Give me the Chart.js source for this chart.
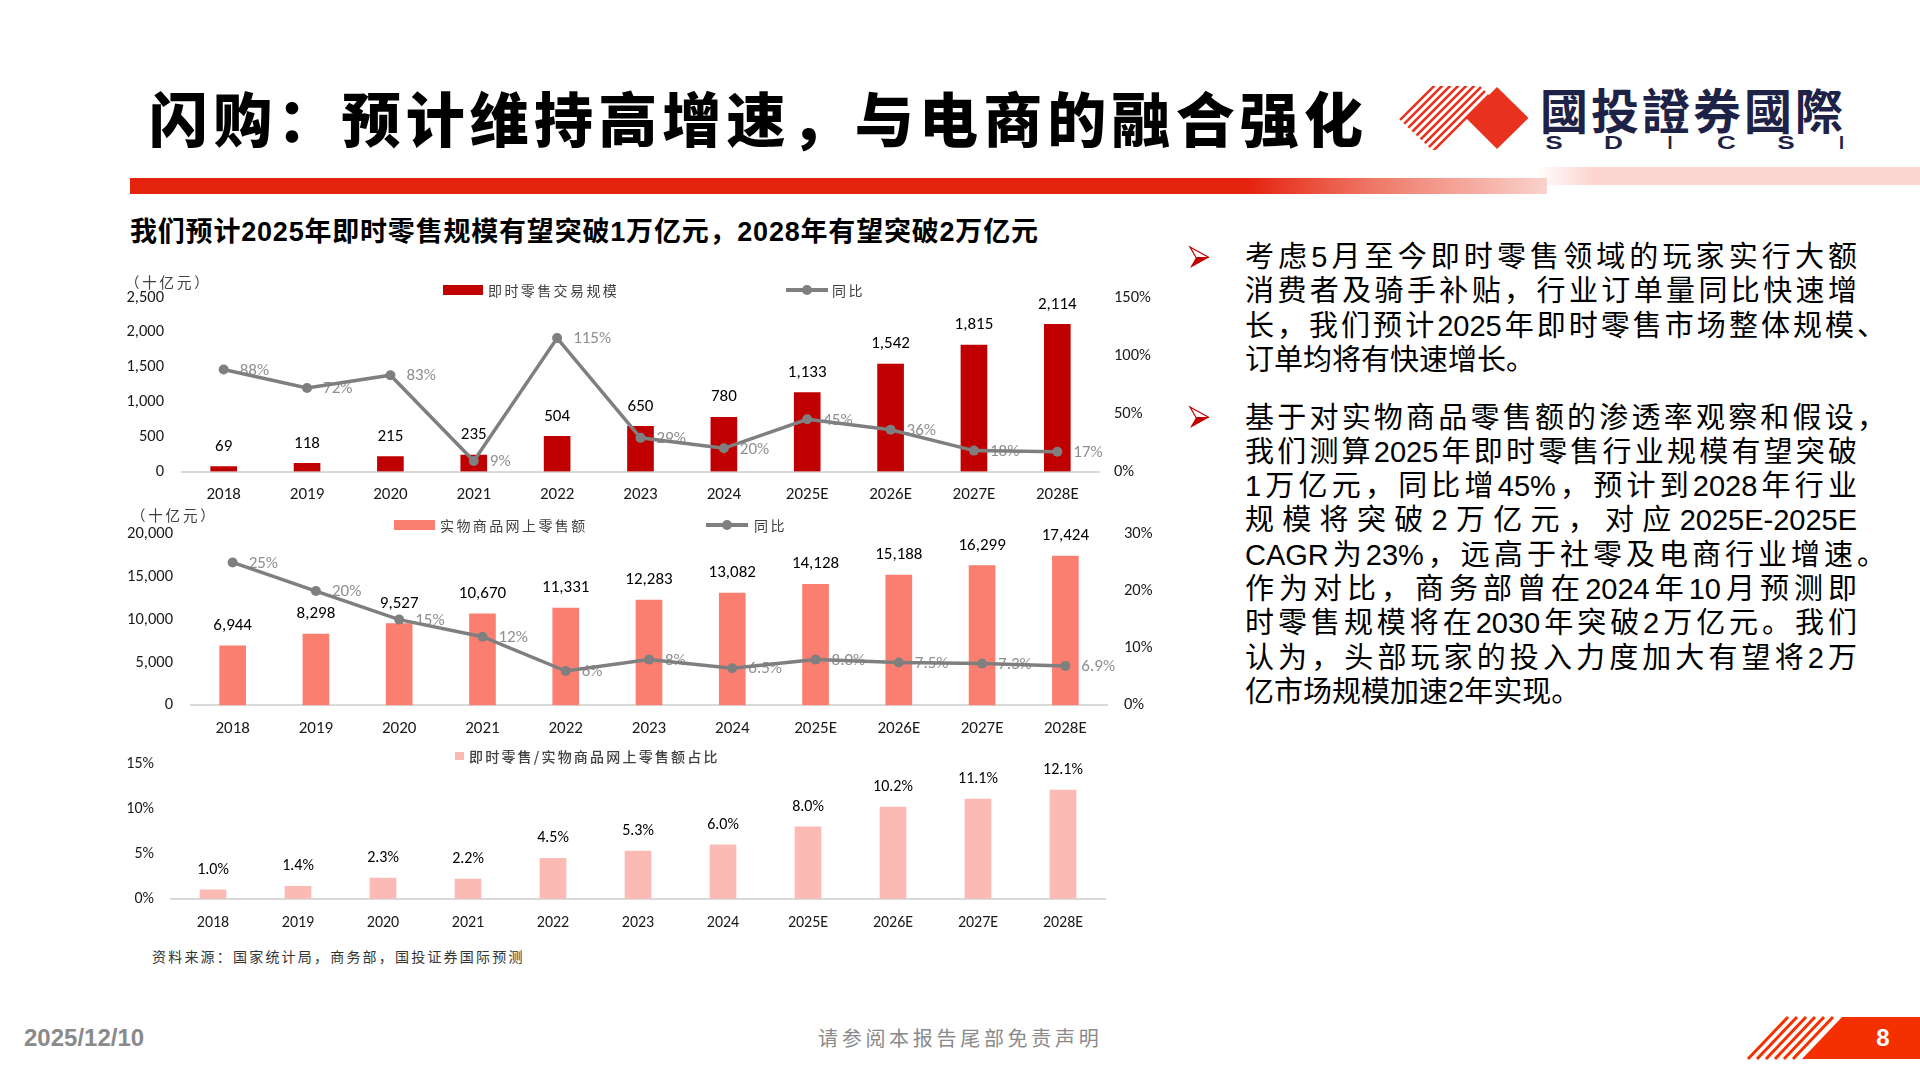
<!DOCTYPE html>
<html><head><meta charset="utf-8">
<script src="https://cdn.jsdelivr.net/npm/chart.js@4.4.1/dist/chart.umd.min.js"></script>
<style>
html,body{margin:0;padding:0;}
body{width:1920px;height:1080px;overflow:hidden;background:#fff;position:relative;font-family:"Liberation Sans","Noto Sans CJK SC",sans-serif;color:#000;}
.abs{position:absolute;white-space:nowrap;}
.ln{position:absolute;left:1245px;width:612px;height:34px;line-height:34px;font-size:29px;text-align:justify;text-align-last:justify;white-space:nowrap;}
.ln.last{text-align-last:left;}
.hang{margin-right:-29px;}
canvas{position:absolute;}
.leg{position:absolute;font-family:"Noto Sans CJK SC",sans-serif;font-size:14px;color:#404040;line-height:20px;height:20px;white-space:nowrap;}
.sx{display:inline-block;transform:scaleX(1.45);}
</style></head><body>

<svg class="abs" style="left:0;top:0" width="1920" height="1080" xmlns="http://www.w3.org/2000/svg">
  <defs>
    <linearGradient id="gRed" x1="0" x2="1" y1="0" y2="0">
      <stop offset="0" stop-color="#E52410"/>
      <stop offset="0.79" stop-color="#E52410"/>
      <stop offset="0.88" stop-color="#EF7A6A"/>
      <stop offset="1" stop-color="#FAD2CC"/>
    </linearGradient>
    <linearGradient id="gPink" x1="0" x2="1" y1="0" y2="0">
      <stop offset="0" stop-color="#FFFFFF"/>
      <stop offset="0.15" stop-color="#FDD5D0"/>
      <stop offset="1" stop-color="#FDD5D0"/>
    </linearGradient>
    <clipPath id="stripeClip">
      <polygon points="1398,118 1432,86 1480,86 1497,103 1466,149 1432,150"/>
    </clipPath>
  </defs>
  <rect x="1535" y="167" width="385" height="18" fill="url(#gPink)"/>
  <rect x="130" y="178" width="1417" height="16" fill="url(#gRed)"/>
  <g clip-path="url(#stripeClip)" stroke="#E8321E" stroke-width="2.6">
    <line x1="1380" y1="140" x2="1450" y2="70"/>
    <line x1="1388" y1="140" x2="1458" y2="70"/>
    <line x1="1396" y1="140" x2="1466" y2="70"/>
    <line x1="1404" y1="140" x2="1474" y2="70"/>
    <line x1="1400" y1="152" x2="1482" y2="70"/>
    <line x1="1408" y1="152" x2="1490" y2="70"/>
    <line x1="1416" y1="152" x2="1498" y2="70"/>
    <line x1="1424" y1="152" x2="1506" y2="70"/>
    <line x1="1432" y1="152" x2="1514" y2="70"/>
  </g>
  <polygon points="1497,87 1528.5,118 1497,149 1466,118" fill="#E8321E"/>
  <g>
    <polygon points="1190,247 1209,257.5 1196,257.5" fill="#fff" stroke="#C00000" stroke-width="1.2"/>
    <polygon points="1196,257.5 1209,257.5 1190,268" fill="#C00000"/>
    <polygon points="1190,407 1209,417.5 1196,417.5" fill="#fff" stroke="#C00000" stroke-width="1.2"/>
    <polygon points="1196,417.5 1209,417.5 1190,428" fill="#C00000"/>
  </g>
  <polygon points="1842,1017 1920,1017 1920,1059 1802,1059" fill="#F53000"/>
  <g stroke="#F53000" stroke-width="3">
    <line x1="1788" y1="1017" x2="1748" y2="1059"/>
    <line x1="1797" y1="1017" x2="1757" y2="1059"/>
    <line x1="1806" y1="1017" x2="1766" y2="1059"/>
    <line x1="1815" y1="1017" x2="1775" y2="1059"/>
    <line x1="1824" y1="1017" x2="1784" y2="1059"/>
    <line x1="1833" y1="1017" x2="1793" y2="1059"/>
  </g>
</svg>

<!-- title -->
<div id="title" class="abs" style="left:149px;top:82px;height:70px;line-height:70px;font-size:59px;font-weight:900;font-family:'Noto Sans CJK SC',sans-serif;">闪购：预计维持高增速，与电商的融合强化</div>
<!-- logo text -->
<div class="abs" style="left:1540px;top:80px;height:56px;line-height:56px;font-size:48px;font-weight:700;letter-spacing:3px;color:#1E2247;font-family:'Noto Sans CJK TC','Noto Sans CJK SC',sans-serif;">國投證券國際</div>
<div class="abs" style="left:1548px;top:132px;width:296px;height:22px;line-height:22px;font-size:18px;font-weight:700;color:#1E2247;display:flex;justify-content:space-between;font-family:'Liberation Sans',sans-serif;">
  <span class="sx">S</span><span class="sx">D</span><span>I</span><span class="sx">C</span><span class="sx">S</span><span>I</span>
</div>

<!-- subtitle -->
<div class="abs" style="left:130px;top:216px;height:32px;line-height:32px;font-size:27px;font-weight:700;letter-spacing:0.8px;">我们预计2025年即时零售规模有望突破1万亿元，2028年有望突破2万亿元</div>

<!-- right text -->
<div class="ln" style="top:240px">考虑5月至今即时零售领域的玩家实行大额</div>
<div class="ln" style="top:274.4px">消费者及骑手补贴，行业订单量同比快速增</div>
<div class="ln" style="top:308.8px">长，我们预计2025年即时零售市场整体规模<span class="hang">、</span></div>
<div class="ln last" style="top:343.2px">订单均将有快速增长。</div>

<div class="ln" style="top:400.6px">基于对实物商品零售额的渗透率观察和假设<span class="hang">，</span></div>
<div class="ln" style="top:434.9px">我们测算2025年即时零售行业规模有望突破</div>
<div class="ln" style="top:469.2px">1万亿元，同比增45%，预计到2028年行业</div>
<div class="ln" style="top:503.4px">规模将突破2万亿元，对应2025E-2025E</div>
<div class="ln" style="top:537.7px">CAGR为23%，远高于社零及电商行业增速<span class="hang">。</span></div>
<div class="ln" style="top:572px">作为对比，商务部曾在2024年10月预测即</div>
<div class="ln" style="top:606.3px">时零售规模将在2030年突破2万亿元。我们</div>
<div class="ln" style="top:640.6px">认为，头部玩家的投入力度加大有望将2万</div>
<div class="ln last" style="top:674.8px">亿市场规模加速2年实现。</div>

<!-- chart canvases -->
<canvas id="c1" width="1080" height="240" style="left:110px;top:280px;width:1080px;height:240px"></canvas>
<canvas id="c2" width="1080" height="240" style="left:110px;top:515px;width:1080px;height:240px"></canvas>
<canvas id="c3" width="1080" height="200" style="left:110px;top:745px;width:1080px;height:200px"></canvas>

<!-- chart 1 legend -->
<div class="leg" style="left:125px;top:272px;font-size:14.5px;letter-spacing:2.8px;">（十亿元）</div>
<div class="abs" style="left:443px;top:285px;width:40px;height:10px;background:#C00000;"></div>
<div class="leg" style="left:488px;top:280px;letter-spacing:2.4px;">即时零售交易规模</div>
<svg class="abs" style="left:784px;top:282px" width="46" height="16"><line x1="2" y1="8" x2="44" y2="8" stroke="#7F7F7F" stroke-width="4"/><circle cx="23" cy="8" r="5" fill="#7F7F7F"/></svg>
<div class="leg" style="left:832px;top:280px;letter-spacing:2.4px;">同比</div>

<!-- chart 2 legend -->
<div class="leg" style="left:131px;top:505px;font-size:14.5px;letter-spacing:2.8px;">（十亿元）</div>
<div class="abs" style="left:394px;top:520px;width:41px;height:10px;background:#FA7F70;"></div>
<div class="leg" style="left:440px;top:515px;letter-spacing:2.4px;">实物商品网上零售额</div>
<svg class="abs" style="left:704px;top:517px" width="46" height="16"><line x1="2" y1="8" x2="44" y2="8" stroke="#7F7F7F" stroke-width="4"/><circle cx="23" cy="8" r="5" fill="#7F7F7F"/></svg>
<div class="leg" style="left:754px;top:515px;letter-spacing:2.4px;">同比</div>

<!-- chart 3 legend -->
<div class="abs" style="left:455px;top:752px;width:9px;height:8px;background:#FBBAB4;"></div>
<div class="leg" style="left:469px;top:746px;letter-spacing:2.2px;font-weight:500;">即时零售/实物商品网上零售额占比</div>

<!-- source -->
<div class="leg" style="left:152px;top:946px;letter-spacing:2.2px;color:#333;">资料来源：国家统计局，商务部，国投证券国际预测</div>

<!-- footer -->
<div class="abs" style="left:24px;top:1024px;height:28px;line-height:28px;font-size:24px;font-weight:700;color:#8A8A8A;">2025/12/10</div>
<div class="abs" style="left:818px;top:1025px;height:26px;line-height:26px;font-size:20px;letter-spacing:3.7px;color:#8A8A8A;font-family:'Noto Sans CJK SC',sans-serif;">请参阅本报告尾部免责声明</div>
<div class="abs" style="left:1870px;top:1024px;width:26px;height:28px;line-height:28px;font-size:24px;font-weight:700;color:#fff;text-align:center;">8</div>

<script>
// ---------- data ----------
const years = ['2018','2019','2020','2021','2022','2023','2024','2025E','2026E','2027E','2028E'];
const instantRetail = [69, 118, 215, 235, 504, 650, 780, 1133, 1542, 1815, 2114];
const instantYoY = [88, 72, 83, 9, 115, 29, 20, 45, 36, 18, 17];
const instantYoYLabels = ['88%','72%','83%','9%','115%','29%','20%','45%','36%','18%','17%'];
const onlineRetail = [6944, 8298, 9527, 10670, 11331, 12283, 13082, 14128, 15188, 16299, 17424];
const onlineYoY = [25, 20, 15, 12, 6, 8, 6.5, 8.0, 7.5, 7.3, 6.9];
const onlineYoYLabels = ['25%','20%','15%','12%','6%','8%','6.5%','8.0%','7.5%','7.3%','6.9%'];
const penetration = [1.0, 1.4, 2.3, 2.2, 4.5, 5.3, 6.0, 8.0, 10.2, 11.1, 12.1];
const ticks1Left = [0, 500, 1000, 1500, 2000, 2500];
const ticks1Right = [0, 50, 100, 150];
const ticks2Left = [0, 5000, 10000, 15000, 20000];
const ticks2Right = [0, 10, 20, 30];
const ticks3Left = [0, 5, 10, 15];

// fit title width
(function () {
  const el = document.getElementById('title');
  const w = el.getBoundingClientRect().width;
  const n = [...el.textContent].length;
  el.style.letterSpacing = ((1214 - w) / (n - 1)) + 'px';
})();

// ---------- style ----------
const FONT = "Carlito, Lato, 'Liberation Sans', sans-serif";
Chart.defaults.font.family = FONT;
Chart.defaults.font.size = 17;
Chart.defaults.color = '#1a1a1a';
const fmtNum = v => Number(v).toLocaleString('en-US');

const valueLabels = {
  id: 'valueLabels',
  beforeDatasetsDraw(chart, args, o) {
    if (!o.lineLabels) return;
    const idx = chart.data.datasets.findIndex(d => d.type === 'line');
    if (idx < 0) return;
    const meta = chart.getDatasetMeta(idx);
    const ctx = chart.ctx;
    ctx.save();
    ctx.font = o.size + 'px ' + FONT;
    ctx.fillStyle = '#8F8F8F';
    ctx.textAlign = 'left';
    ctx.textBaseline = 'middle';
    meta.data.forEach((pt, i) => ctx.fillText(o.lineLabels[i], pt.x + 16, pt.y + 1));
    ctx.restore();
  },
  afterDatasetsDraw(chart, args, o) {
    const idx = chart.data.datasets.findIndex(d => d.type === 'bar');
    if (idx < 0) return;
    const meta = chart.getDatasetMeta(idx);
    const data = chart.data.datasets[idx].data;
    const ctx = chart.ctx;
    ctx.save();
    ctx.font = o.size + 'px ' + FONT;
    ctx.fillStyle = '#000';
    ctx.textAlign = 'center';
    ctx.textBaseline = 'middle';
    meta.data.forEach((bar, i) => ctx.fillText(o.barFmt(data[i]), bar.x, bar.y - 20));
    ctx.restore();
  }
};

function fixedTicks(arr) {
  return s => { s.ticks = arr.map(v => ({ value: v })); };
}

function xScale(h, size, pad) {
  return {
    type: 'category', offset: true,
    grid: { display: false, drawTicks: false },
    border: { display: true, color: '#D9D9D9', width: 2 },
    ticks: { padding: pad, color: '#1a1a1a', maxRotation: 0, autoSkip: false, font: { size: size } },
    afterFit: s => { s.height = h; s.paddingLeft = 0; s.paddingRight = 0; }
  };
}
function yScale(pos, min, max, arr, fmt, pad, w, size) {
  return {
    position: pos, min: min, max: max,
    grid: { display: false, drawTicks: false },
    border: { display: false },
    afterBuildTicks: fixedTicks(arr),
    ticks: { padding: pad, color: '#1a1a1a', callback: v => fmt(v), font: { size: size } },
    afterFit: s => { s.width = w; s.paddingTop = 0; s.paddingBottom = 0; }
  };
}

const common = {
  responsive: false, animation: false, devicePixelRatio: 1,
  plugins: { legend: { display: false }, tooltip: { enabled: false } }
};

// Chart 1
new Chart(document.getElementById('c1'), {
  data: {
    labels: years,
    datasets: [
      { type: 'line', data: instantYoY, yAxisID: 'y1', order: 0,
        borderColor: '#7F7F7F', borderWidth: 3.5, pointRadius: 5, pointBackgroundColor: '#7F7F7F', pointBorderWidth: 0, tension: 0 },
      { type: 'bar', data: instantRetail, yAxisID: 'y', order: 1,
        backgroundColor: '#C00000', barThickness: 26 }
    ]
  },
  options: Object.assign({}, common, {
    layout: { padding: { top: 17.5, left: 0, right: 0, bottom: 0 } },
    plugins: Object.assign({}, common.plugins, { valueLabels: { lineLabels: instantYoYLabels, barFmt: fmtNum, size: 17 } }),
    scales: {
      x: xScale(48.5, 17, 13),
      y: yScale('left', 0, 2500, ticks1Left, fmtNum, 18, 72, 16.5),
      y1: yScale('right', 0, 150, ticks1Right, v => v + '%', 15, 91, 16.5)
    }
  }),
  plugins: [valueLabels]
});

// Chart 2
new Chart(document.getElementById('c2'), {
  data: {
    labels: years,
    datasets: [
      { type: 'line', data: onlineYoY, yAxisID: 'y1', order: 0,
        borderColor: '#7F7F7F', borderWidth: 3.5, pointRadius: 5, pointBackgroundColor: '#7F7F7F', pointBorderWidth: 0, tension: 0 },
      { type: 'bar', data: onlineRetail, yAxisID: 'y', order: 1,
        backgroundColor: '#FA7F70', barThickness: 26 }
    ]
  },
  options: Object.assign({}, common, {
    layout: { padding: { top: 18.9, left: 0, right: 0, bottom: 0 } },
    plugins: Object.assign({}, common.plugins, { valueLabels: { lineLabels: onlineYoYLabels, barFmt: fmtNum, size: 17 } }),
    scales: {
      x: xScale(49.7, 17, 13),
      y: yScale('left', 0, 20000, ticks2Left, fmtNum, 18, 81, 16.5),
      y1: yScale('right', 0, 30, ticks2Right, v => v + '%', 17, 83, 16.5)
    }
  }),
  plugins: [valueLabels]
});

// Chart 3
new Chart(document.getElementById('c3'), {
  data: {
    labels: years,
    datasets: [
      { type: 'bar', data: penetration, yAxisID: 'y',
        backgroundColor: '#FBBAB4', barThickness: 26 }
    ]
  },
  options: Object.assign({}, common, {
    layout: { padding: { top: 19, left: 0, right: 84.5, bottom: 0 } },
    plugins: Object.assign({}, common.plugins, { valueLabels: { barFmt: v => v.toFixed(1) + '%', size: 16 } }),
    scales: {
      x: xScale(46.2, 16, 15),
      y: yScale('left', 0, 15, ticks3Left, v => v + '%', 16.5, 60.5, 16)
    }
  }),
  plugins: [valueLabels]
});
</script>
</body></html>
